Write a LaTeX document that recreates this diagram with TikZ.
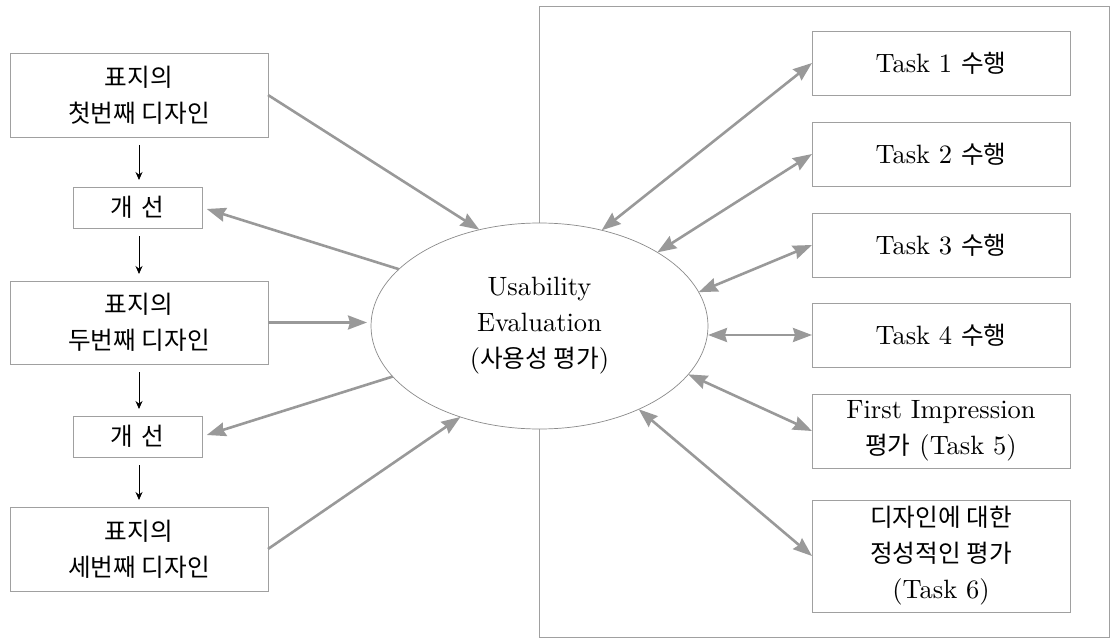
\documentclass[tikz,border=0pt]{standalone}
\usepackage{fontspec}
\setmainfont{lmroman10}[Extension=.otf, UprightFont=*-regular]
\newfontfamily\kr{Noto Sans CJK KR}[Scale=0.93]
\usetikzlibrary{arrows.meta,shapes.geometric}
\definecolor{lg}{HTML}{999999}
\definecolor{bd}{HTML}{A0A0A0}
\newcommand\myfs{\fontsize{26.5}{36}\selectfont}
\tikzset{
  box/.style={draw=bd, line width=0.9pt, rectangle, inner sep=0pt, outer sep=0pt,
    minimum width=258pt, align=center, font=\myfs, fill=white},
  kbox/.style={box, minimum width=129pt, minimum height=41pt},
  evell/.style={draw=lg!90!black, line width=0.7pt, ellipse, inner sep=0pt, outer sep=0pt,
    minimum width=337pt, minimum height=206pt, align=center, font=\myfs, fill=white},
  garrow/.style={draw=lg, line width=2.6pt, -{Stealth[length=19pt,width=14pt,inset=2pt]}},
  gdbl/.style={draw=lg, line width=2.6pt,
    {Stealth[length=19pt,width=14pt,inset=2pt]}-{Stealth[length=19pt,width=14pt,inset=2pt]}},
  barrow/.style={draw=black, line width=0.8pt, -{Stealth[length=8pt,width=7pt]},
    shorten <=8pt, shorten >=7pt},
}
\begin{document}
\begin{tikzpicture}[x=1pt,y=-1pt]
\useasboundingbox (0,0) rectangle (1113,639);
% outer frame on the right
\draw[bd, line width=0.9pt] (539,6) rectangle (1109,637);

% left column
\node[box, minimum height=84pt] (b1) at (139,95) {{\kr 표지의}\\{\kr 첫번째 디자인}};
\node[kbox] (k1) at (137.5,207.5) {\kr 개\hspace{0.35em}선};
\node[box, minimum height=83pt] (b2) at (139,322.5) {{\kr 표지의}\\{\kr 두번째 디자인}};
\node[kbox] (k2) at (137.5,436.5) {\kr 개\hspace{0.35em}선};
\node[box, minimum height=84pt] (b3) at (139,549) {{\kr 표지의}\\{\kr 세번째 디자인}};

% centre ellipse
\node[evell] (ev) at (539.5,326) {Usability\\Evaluation\\({\kr 사용성 평가})};

% right column
\node[box, minimum height=64pt] (t1) at (941,63) {Task 1 {\kr 수행}};
\node[box, minimum height=64pt] (t2) at (941,154) {Task 2 {\kr 수행}};
\node[box, minimum height=64pt] (t3) at (941,245) {Task 3 {\kr 수행}};
\node[box, minimum height=64pt] (t4) at (941,335) {Task 4 {\kr 수행}};
\node[box, minimum height=74pt] (t5) at (941,431) {First Impression\\{\kr 평가} (Task 5)};
\node[box, minimum height=112pt] (t6) at (941,556) {{\kr 디자인에 대한}\\{\kr 정성적인 평가}\\(Task 6)};

% black down arrows
\draw[barrow] (b1.south) -- (b1.south |- k1.north);
\draw[barrow] (k1.south -| b1.south) -- (b2.north);
\draw[barrow] (b2.south) -- (b2.south |- k2.north);
\draw[barrow] (k2.south -| b2.south) -- (b3.north);

% left gray arrows
\draw[garrow] (b1.east) -- (ev.122.4);
\draw[garrow, shorten >=5pt] (ev.158.2) -- (k1.east);
\draw[garrow, shorten >=4pt] (b2.east) -- (b2.east -| ev.west);
\draw[garrow, shorten >=5pt] (ev.199.5) -- (k2.east);
\draw[garrow] (b3.east) -- (ev.229.6);

% right double arrows
\draw[gdbl] (ev.57.2) -- (t1.west);
\draw[gdbl] (ev.32.2) -- (t2.west);
\draw[gdbl] (ev.12.5) -- (t3.west);
\draw[gdbl] (t4.west -| ev.east) -- (t4.west);
\draw[gdbl] (ev.-18.3) -- (t5.west);
\draw[gdbl] (ev.-40) -- (t6.west);
\end{tikzpicture}
\end{document}
